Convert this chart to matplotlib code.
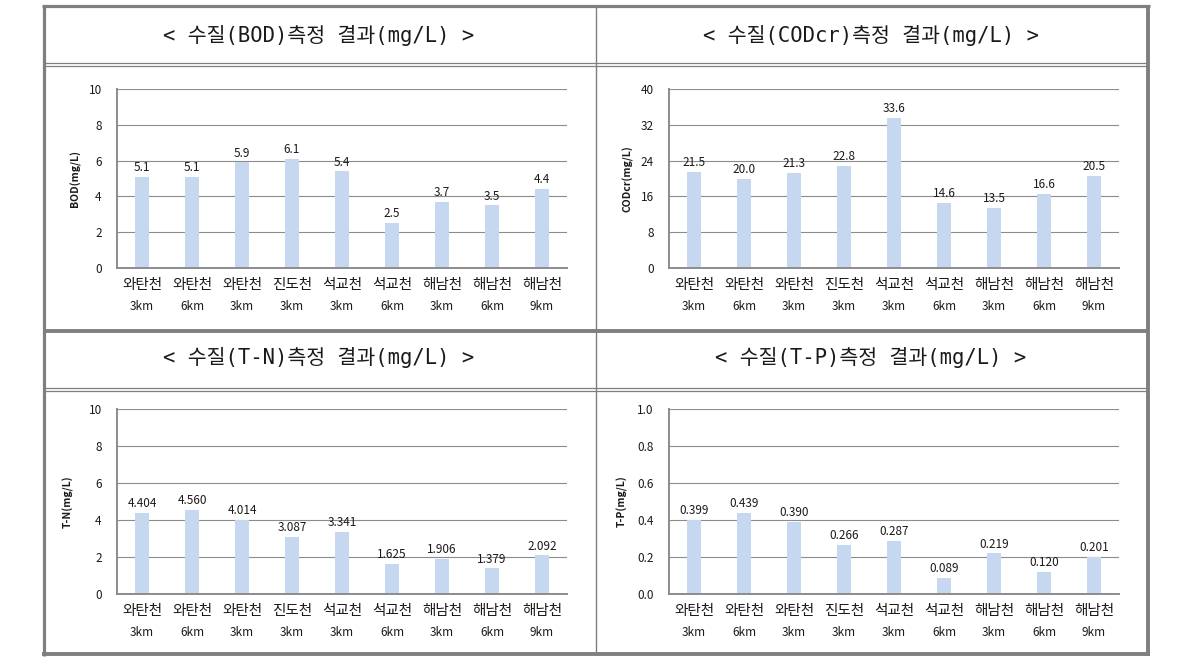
import matplotlib
matplotlib.use('Agg')
import matplotlib.pyplot as plt
from matplotlib.lines import Line2D
from matplotlib.transforms import blended_transform_factory

plt.rcParams['font.family'] = ['Noto Sans CJK KR', 'DejaVu Sans']

# 데이터
rivers = ['와탄천', '와탄천', '와탄천', '진도천', '석교천', '석교천', '해남천', '해남천', '해남천']
dists = ['3km', '6km', '3km', '3km', '3km', '6km', '3km', '6km', '9km']

bod = [5.1, 5.1, 5.9, 6.1, 5.4, 2.5, 3.7, 3.5, 4.4]
codcr = [21.5, 20.0, 21.3, 22.8, 33.6, 14.6, 13.5, 16.6, 20.5]
tn = [4.404, 4.560, 4.014, 3.087, 3.341, 1.625, 1.906, 1.379, 2.092]
tp = [0.399, 0.439, 0.390, 0.266, 0.287, 0.089, 0.219, 0.120, 0.201]

titles = ['< 수질(BOD)측정 결과(mg/L) >', '< 수질(CODcr)측정 결과(mg/L) >',
          '< 수질(T-N)측정 결과(mg/L) >', '< 수질(T-P)측정 결과(mg/L) >']
ylabels = ['BOD(mg/L)', 'CODcr(mg/L)', 'T-N(mg/L)', 'T-P(mg/L)']
yticks_list = [[0, 2, 4, 6, 8, 10], [0, 8, 16, 24, 32, 40],
               [0, 2, 4, 6, 8, 10], [0.0, 0.2, 0.4, 0.6, 0.8, 1.0]]
ytick_fmt = ['{:g}', '{:g}', '{:g}', '{:.1f}']
val_fmt = ['{:.1f}', '{:.1f}', '{:.3f}', '{:.3f}']
series = [bod, codcr, tn, tp]

W, H = 1195, 664
fig = plt.figure(figsize=(W / 100, H / 100), dpi=100)

def fx(x):
    return x / W

def fy(y):
    return 1 - y / H

border = '#7f7f7f'

def hline(y, x0, x1, lw):
    fig.add_artist(Line2D([fx(x0), fx(x1)], [fy(y), fy(y)], color=border, lw=lw,
                          transform=fig.transFigure, solid_capstyle='butt'))

def vline(x, y0, y1, lw):
    fig.add_artist(Line2D([fx(x), fx(x)], [fy(y0), fy(y1)], color=border, lw=lw,
                          transform=fig.transFigure, solid_capstyle='butt'))

# 테두리
hline(6, 42, 1150, 2.3)
hline(654, 42, 1150, 2.8)
vline(43.5, 5, 656, 2.3)
vline(1148, 5, 656, 2.8)
hline(331, 44, 1147, 2.8)
vline(595.5, 7, 653, 1.0)
for y in (62.5, 65.5, 387.5, 390.5):
    hline(y, 44, 1147, 0.9)

# 패널 위치 (픽셀)
boxes = [(117, 567, 89, 268), (669, 1119, 89, 268),
         (117, 567, 409, 594), (669, 1119, 409, 594)]
title_pos = [(319, 35), (871, 35), (319, 358), (871, 358)]
ylabel_x = [75, 628, 68, 622]

x = list(range(len(rivers)))

for i in range(4):
    l, r, t, b = boxes[i]
    ax = fig.add_axes([fx(l), fy(b), fx(r - l), (b - t) / H])
    ax.bar(x, series[i], width=0.28, color='#c6d8f0', zorder=3)
    ax.set_xlim(-0.5, len(rivers) - 0.5)
    yt = yticks_list[i]
    ax.set_ylim(yt[0], yt[-1])
    ax.set_yticks(yt)
    ax.set_yticklabels([ytick_fmt[i].format(v) for v in yt])
    ax.set_xticks([])
    ax.tick_params(axis='y', length=0, pad=11, labelsize=8.5, labelcolor='#1a1a1a')
    ax.grid(axis='y', color='#8c8c8c', lw=0.8, zorder=0)
    for s in ('top', 'right'):
        ax.spines[s].set_visible(False)
    for s in ('left', 'bottom'):
        ax.spines[s].set_color('#8c8c8c')
        ax.spines[s].set_linewidth(1.4)
        ax.spines[s].set_zorder(4)

    for xi, v in zip(x, series[i]):
        ax.annotate(val_fmt[i].format(v), (xi, v), xytext=(0, 2), textcoords='offset points',
                    ha='center', va='bottom', fontsize=8.5, color='#1a1a1a', zorder=5)

    tr = blended_transform_factory(ax.transData, ax.transAxes)
    hgt = b - t
    for xi, rv, dv in zip(x, rivers, dists):
        ax.text(xi, -17 / hgt, rv, transform=tr, ha='center', va='center',
                fontsize=10.5, color='#1a1a1a')
        ax.text(xi, -38 / hgt, dv, transform=tr, ha='center', va='center',
                fontsize=8.5, color='#1a1a1a')

    ax.text((ylabel_x[i] - l) / (r - l), 0.5, ylabels[i], transform=ax.transAxes,
            rotation=90, ha='center', va='center', fontsize=7.5, fontweight='bold',
            color='#1a1a1a')

    tx, ty = title_pos[i]
    fig.text(fx(tx), fy(ty), titles[i], ha='center', va='center', fontsize=14.8,
             family=['DejaVu Sans Mono', 'Noto Sans CJK KR'], color='#1a1a1a')

fig.savefig('out.png', dpi=100)
